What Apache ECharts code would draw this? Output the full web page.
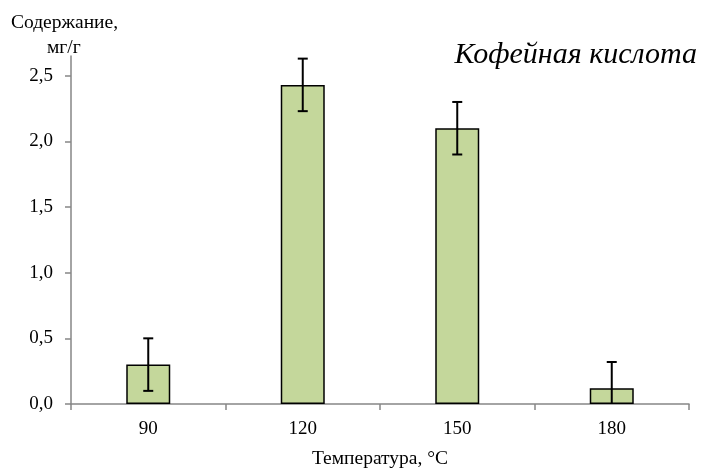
<!DOCTYPE html>
<html>
<head>
<meta charset="utf-8">
<script src="https://cdn.jsdelivr.net/npm/echarts@6/dist/echarts.min.js"></script>
<style>html,body{margin:0;padding:0;background:#fff;}#c{width:704px;height:468px;}</style>
</head>
<body>
<div id="c"></div>
<script>
var categories = ['90', '120', '150', '180'];
var values = [0.30, 2.43, 2.10, 0.12];
var errors = [0.20, 0.20, 0.20, 0.20];
var yTicks = [0, 0.5, 1.0, 1.5, 2.0, 2.5];

var FONT = '"Liberation Serif", "Times New Roman", serif';
var chart = echarts.init(document.getElementById('c'));
var errData = values.map(function (v, i) { return [i, v, errors[i]]; });

chart.setOption({
  animation: false,
  backgroundColor: '#fff',
  title: {
    text: 'Кофейная кислота',
    right: 2, top: 35,
    textStyle: { fontFamily: FONT, fontStyle: 'italic', fontWeight: 'normal', fontSize: 30, color: '#000' }
  },
  graphic: [
    { type: 'text', left: 11, top: 13, style: { text: 'Содержание,', font: '19.5px ' + FONT, fill: '#000' } },
    { type: 'text', left: 47, top: 38, style: { text: 'мг/г', font: '19.5px ' + FONT, fill: '#000' } }
  ],
  grid: { left: 71, right: 15, top: 56, bottom: 64, outerBoundsMode: 'none', containLabel: false },
  xAxis: {
    type: 'category',
    data: categories,
    name: 'Температура, °C',
    nameLocation: 'middle',
    nameGap: 45,
    nameTextStyle: { fontFamily: FONT, fontSize: 19.5, color: '#000' },
    axisLine: { lineStyle: { color: '#868686', width: 1.5 } },
    axisTick: { show: true, length: 6, interval: 0, lineStyle: { color: '#868686', width: 1.5 } },
    axisLabel: { fontFamily: FONT, fontSize: 19, color: '#000', margin: 16 }
  },
  yAxis: {
    type: 'value',
    min: 0, max: 2.65,
    splitLine: { show: false },
    axisLine: { show: true, lineStyle: { color: '#868686', width: 1.5 } },
    axisTick: { show: true, length: 6, customValues: yTicks, lineStyle: { color: '#868686', width: 1.5 } },
    axisLabel: {
      customValues: yTicks,
      fontFamily: FONT, fontSize: 19, color: '#000', margin: 18,
      formatter: function (v) { return v.toFixed(1).replace('.', ','); }
    }
  },
  series: [
    {
      type: 'bar',
      data: values,
      barWidth: 44,
      itemStyle: { color: '#c4d79b', borderColor: '#000', borderWidth: 1.5 }
    },
    {
      type: 'custom',
      data: errData,
      z: 10,
      renderItem: function (params, api) {
        var i = api.value(0), v = api.value(1), e = api.value(2);
        var hi = api.coord([i, v + e]);
        var lo = api.coord([i, Math.max(0, v - e)]);
        var cap = 5;
        var loCap = (v - e) > 0;
        var st = { stroke: '#000', lineWidth: 2 };
        var children = [
          { type: 'line', shape: { x1: hi[0], y1: hi[1], x2: lo[0], y2: lo[1] }, style: st },
          { type: 'line', shape: { x1: hi[0] - cap, y1: hi[1], x2: hi[0] + cap, y2: hi[1] }, style: st }
        ];
        if (loCap) {
          children.push({ type: 'line', shape: { x1: lo[0] - cap, y1: lo[1], x2: lo[0] + cap, y2: lo[1] }, style: st });
        }
        return { type: 'group', children: children };
      }
    }
  ]
});
</script>
</body>
</html>
